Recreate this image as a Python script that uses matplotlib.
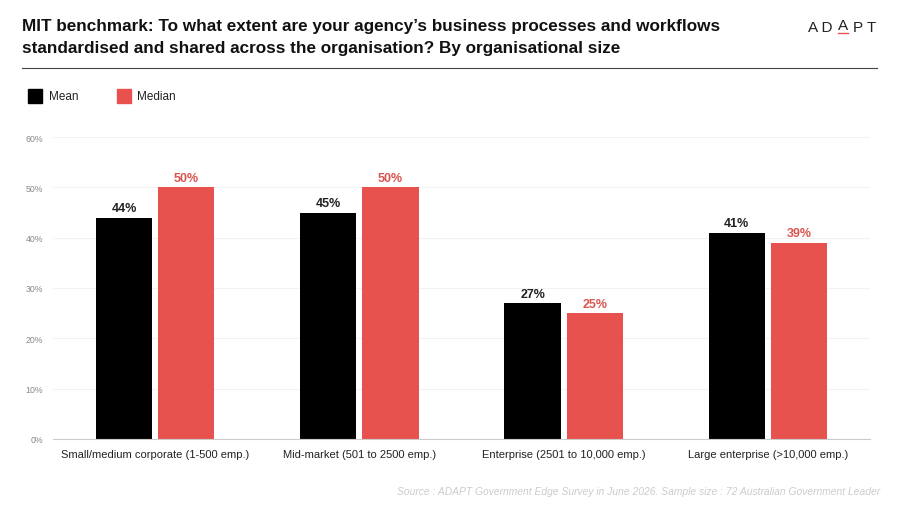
import matplotlib.pyplot as plt
import numpy as np

plt.rcParams['font.family'] = ['Liberation Sans', 'DejaVu Sans']

categories = ['Small/medium corporate (1-500 emp.)', 'Mid-market (501 to 2500 emp.)',
              'Enterprise (2501 to 10,000 emp.)', 'Large enterprise (>10,000 emp.)']
mean_vals = [44, 45, 27, 41]
median_vals = [50, 50, 25, 39]
y_ticks = [0, 10, 20, 30, 40, 50, 60]

black = '#000000'
red = '#E8524E'

fig = plt.figure(figsize=(9, 5.06), dpi=100)
ax = fig.add_axes([53 / 900, 66 / 506, 817 / 900, 302 / 506])

x = np.arange(len(categories))
w = 0.275
off = 0.152
b1 = ax.bar(x - off, mean_vals, w, color=black)
b2 = ax.bar(x + off, median_vals, w, color=red)
for r, v in zip(b1, mean_vals):
    ax.text(r.get_x() + r.get_width() / 2, v + 0.7, f'{v}%', ha='center', va='bottom',
            fontsize=9, fontweight='bold', color='#222222')
for r, v in zip(b2, median_vals):
    ax.text(r.get_x() + r.get_width() / 2, v + 0.7, f'{v}%', ha='center', va='bottom',
            fontsize=9, fontweight='bold', color='#DA5550')

ax.set_xlim(-0.5, 3.5)
ax.set_ylim(0, 60)
ax.set_yticks(y_ticks)
ax.set_yticklabels([f'{t}%' for t in y_ticks], fontsize=6.3, color='#888888')
ax.set_xticks(x)
ax.set_xticklabels(categories, fontsize=8, color='#222222')
ax.tick_params(axis='both', length=0)
ax.tick_params(axis='y', pad=7)
ax.tick_params(axis='x', pad=7)
ax.grid(axis='y', color='#f2f2f2', linewidth=0.8)
ax.set_axisbelow(True)
for s in ['top', 'right', 'left']:
    ax.spines[s].set_visible(False)
ax.spines['bottom'].set_color('#cccccc')

# title
fig.text(22 / 900, 1 - 27 / 506, 'MIT benchmark: To what extent are your agency\u2019s business processes and workflows',
         fontsize=12.3, fontweight='bold', va='center', color='#111111')
fig.text(22 / 900, 1 - 48 / 506, 'standardised and shared across the organisation? By organisational size',
         fontsize=12.3, fontweight='bold', va='center', color='#111111')
fig.add_artist(plt.Line2D([22 / 900, 877 / 900], [1 - 69 / 506, 1 - 69 / 506], color='#444444', linewidth=0.8))

# logo
fig.text(808 / 900, 1 - 28 / 506, 'A D', fontsize=11, va='center', ha='left', color='#222222')
fig.text(843 / 900, 1 - 26 / 506, 'A', fontsize=11, va='center', ha='center', color='#222222')
fig.text(853 / 900, 1 - 28 / 506, 'P T', fontsize=11, va='center', ha='left', color='#222222')
fig.add_artist(plt.Line2D([838 / 900, 848 / 900], [1 - 34 / 506, 1 - 34 / 506], color=red, linewidth=1))

# legend
fig.add_artist(plt.Rectangle((28 / 900, 1 - 104 / 506), 14 / 900, 14 / 506, color=black))
fig.text(49 / 900, 1 - 97 / 506, 'Mean', fontsize=8.5, va='center', color='#222222')
fig.add_artist(plt.Rectangle((117 / 900, 1 - 104 / 506), 14 / 900, 14 / 506, color=red))
fig.text(137 / 900, 1 - 97 / 506, 'Median', fontsize=8.5, va='center', color='#222222')

# source
fig.text(880 / 900, 1 - 492 / 506,
         'Source : ADAPT Government Edge Survey in June 2026. Sample size : 72 Australian Government Leader',
         fontsize=7.4, style='italic', ha='right', va='center', color='#cccccc')

fig.savefig('out.png', dpi=100)
